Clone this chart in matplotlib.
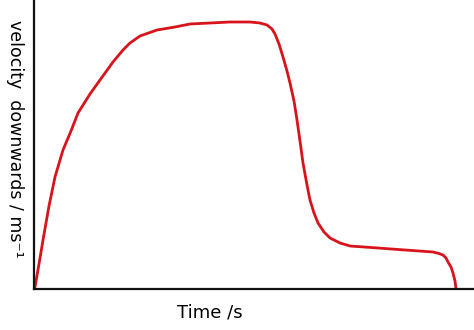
import matplotlib.pyplot as plt

# Sketch of a skydiver's fall: velocity downwards against time (arbitrary units)
time = [0, 4, 8, 14, 20, 28, 36, 43, 55, 65, 78, 88, 95, 105, 122, 140, 155, 175,
        195, 215, 225, 232, 237, 240, 244, 248, 252, 255, 259, 262, 265, 268, 272,
        275, 279, 283, 289, 295, 305, 315, 343, 370, 398, 404, 408, 411, 413,
        416, 418, 420, 421]
velocity = [2, 25, 49, 83, 112, 139, 158, 176, 195, 209, 227, 239, 246, 253, 259,
            262, 265, 266, 267, 267, 266, 264, 260, 255, 245, 232, 218, 206, 188,
            169, 148, 126, 104, 89, 76, 66, 57, 51, 46, 43, 41, 39, 37, 35.5, 34,
            31, 27, 22, 16, 8, 0]

fig = plt.figure(figsize=(4.74, 3.30), dpi=100)
ax = fig.add_axes([34 / 474, 41 / 330, 1 - 34 / 474, 1 - 41 / 330])

ax.plot(time, velocity, color='#d7141c', linewidth=2.0, solid_joinstyle='round',
        solid_capstyle='round')

ax.set_xlim(-1, 439)
ax.set_ylim(0, 289)

# hand-drawn style axes: only left and bottom lines, no ticks
for side in ['top', 'right']:
    ax.spines[side].set_visible(False)
for side in ['left', 'bottom']:
    ax.spines[side].set_linewidth(1.6)
    ax.spines[side].set_color('#111111')
ax.set_xticks([])
ax.set_yticks([])

ax.set_xlabel('Time /s', fontsize=13, va='center')
ax.xaxis.set_label_coords(0.40, -0.083)
ax.set_ylabel('velocity  downwards / ms⁻¹', fontsize=12.5, rotation=270, va='center')
ax.yaxis.set_label_coords(-0.043, 0.52)

fig.savefig('out.png', dpi=100)
